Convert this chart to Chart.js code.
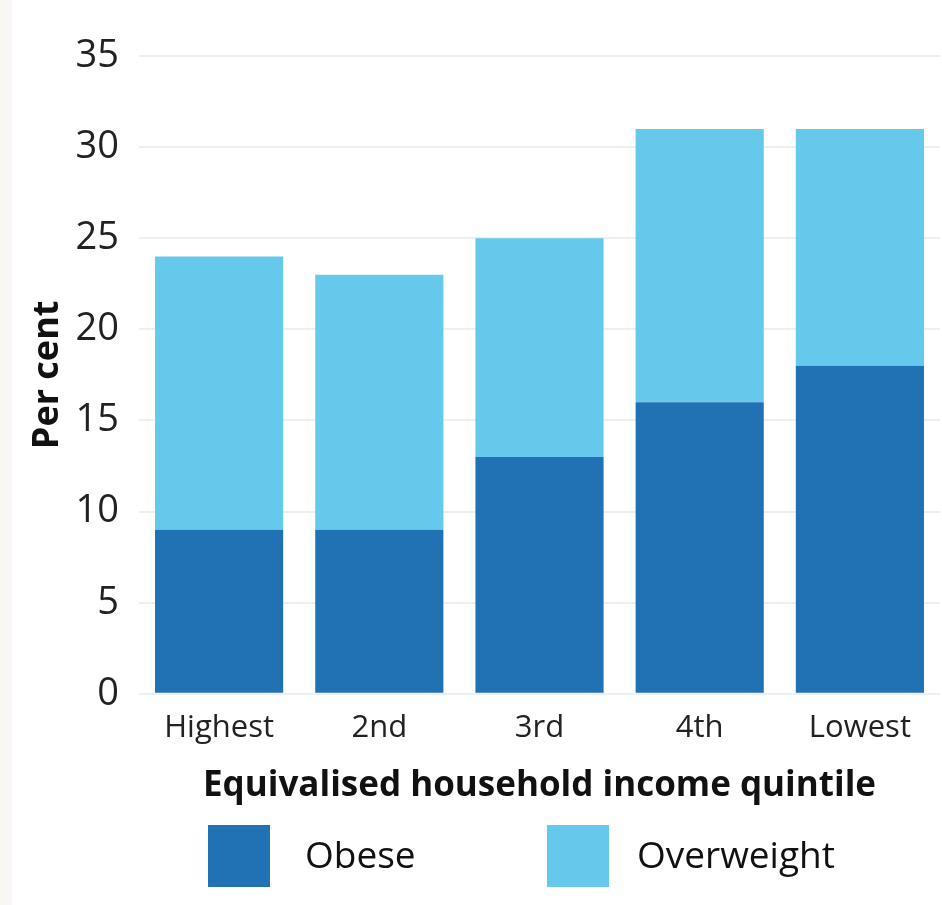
<!DOCTYPE html>
<html>
<head>
<meta charset="utf-8">
<script src="https://cdn.jsdelivr.net/npm/chart.js@4/dist/chart.umd.min.js"></script>
<style>
  html, body { margin: 0; padding: 0; background: #f9f7f4; }
  .wrap { position: absolute; left: 12px; top: 0; width: 930px; height: 905px; background: #fff; }
</style>
</head>
<body>
<div class="wrap"><canvas id="chart"></canvas></div>
<script>
const quintiles = ["Highest", "2nd", "3rd", "4th", "Lowest"];
const obese = [9, 9, 13, 16, 18];
const overweight = [15, 14, 12, 15, 13];
const yTicks = [0, 5, 10, 15, 20, 25, 30, 35];

const obeseColor = "#2171b5";
const overweightColor = "#66c9eb";
const fontFamily = "'Open Sans', 'Noto Sans', sans-serif";

// legend drawn by hand so the big squares and spacing match
const bottomLegend = {
  id: "bottomLegend",
  afterDraw(chart) {
    const ctx = chart.ctx;
    const y = chart.height - 80;
    const boxX = [196, 535];
    const textX = [293, 625];
    ctx.save();
    ctx.font = "37px " + fontFamily;
    ctx.textBaseline = "middle";
    chart.data.datasets.forEach((ds, i) => {
      ctx.fillStyle = ds.backgroundColor;
      ctx.fillRect(boxX[i], y, 62, 62);
      ctx.fillStyle = "#111";
      ctx.fillText(ds.label, textX[i], y + 32);
    });
    ctx.restore();
  },
};

new Chart(document.getElementById("chart"), {
  type: "bar",
  data: {
    labels: quintiles,
    datasets: [
      { label: "Obese", data: obese, backgroundColor: obeseColor },
      { label: "Overweight", data: overweight, backgroundColor: overweightColor },
    ],
  },
  options: {
    responsive: true,
    maintainAspectRatio: false,
    animation: false,
    layout: { padding: { top: 56, bottom: 98, right: 2, left: 14 } },
    datasets: { bar: { barPercentage: 0.8, categoryPercentage: 1 } },
    plugins: {
      legend: { display: false },
      tooltip: { enabled: false },
    },
    scales: {
      x: {
        stacked: true,
        grid: { display: false },
        border: { display: false },
        ticks: { color: "#222", font: { family: fontFamily, size: 31 }, padding: 8 },
        title: {
          display: true,
          text: "Equivalised household income quintile",
          color: "#111",
          font: { family: fontFamily, size: 35, weight: "bold" },
          padding: { top: 10, bottom: 0 },
        },
      },
      y: {
        stacked: true,
        min: 0,
        max: 35,
        afterBuildTicks: (scale) => {
          scale.ticks = yTicks.map((v) => ({ value: v }));
        },
        afterFit: (scale) => {
          scale.width = 113;
        },
        grid: { color: "#efefef", lineWidth: 2, drawTicks: false },
        border: { display: false },
        ticks: { color: "#222", font: { family: fontFamily, size: 38 }, padding: 20 },
        title: {
          display: true,
          text: "Per cent",
          color: "#111",
          font: { family: fontFamily, size: 36, weight: "bold" },
          padding: { top: 0, bottom: 0 },
        },
      },
    },
  },
  plugins: [bottomLegend],
});
</script>
</body>
</html>
